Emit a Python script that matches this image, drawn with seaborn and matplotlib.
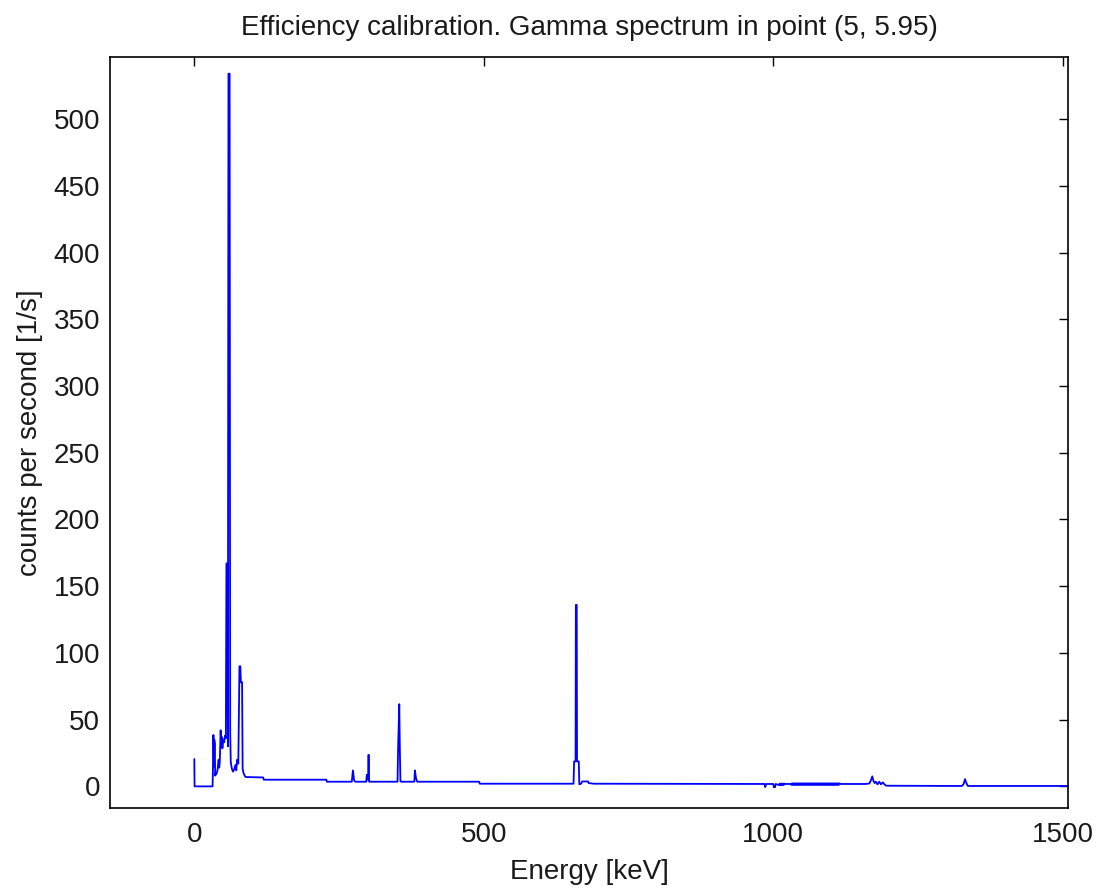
import matplotlib
matplotlib.use("Agg")
import matplotlib.pyplot as plt
import seaborn as sns
import pandas as pd

# ---- data ----
energy_kev = [
    0, 0.5, 31.5, 32, 33, 34, 34.5, 35.5, 36, 37, 38, 40, 42, 43, 44, 45.5, 46.5,
    47.5, 48.5, 50, 51.5, 53, 54.5, 55.5, 57, 58, 59, 61, 62, 63, 65, 67, 69, 71,
    72.5, 74, 76, 78, 79.5, 80.5, 82.5, 83.5, 85, 87, 89, 119, 120, 228, 229,
    272, 274, 276, 278, 297, 298, 300, 301, 302, 351, 352, 354, 355, 356, 357,
    380, 381, 383, 385, 492, 493, 655, 656, 658.5, 659, 660.5, 661, 664, 665,
    668, 670, 680, 681, 690, 985, 986, 988, 1000, 1001, 1003, 1004, 1010, 1011,
    1012, 1013, 1014, 1015, 1016, 1017, 1018, 1019, 1021, 1030, 1031, 1032,
    1033, 1034, 1035, 1036, 1037, 1038, 1039, 1040, 1041, 1042, 1043, 1044,
    1045, 1046, 1047, 1048, 1049, 1050, 1051, 1052, 1053, 1054, 1055, 1056,
    1057, 1058, 1059, 1060, 1061, 1062, 1063, 1064, 1065, 1066, 1067, 1068,
    1069, 1070, 1071, 1072, 1073, 1074, 1075, 1076, 1077, 1078, 1079, 1080,
    1081, 1082, 1083, 1084, 1085, 1086, 1087, 1088, 1089, 1090, 1091, 1092,
    1093, 1094, 1095, 1096, 1097, 1098, 1099, 1100, 1101, 1102, 1103, 1104,
    1105, 1106, 1107, 1108, 1109, 1110, 1111, 1112, 1113, 1114,
    1116, 1160, 1166, 1169, 1171, 1173, 1175, 1177, 1180, 1183, 1186, 1189,
    1192, 1195, 1326, 1329, 1331, 1333, 1336, 1509,
]
counts_per_s = [
    20.5, 0, 0, 8, 38.5, 15, 35, 32, 8, 10, 9, 12, 20, 14, 18, 42, 30,
    37, 28.5, 35, 33, 38, 36, 167, 167, 30, 534, 534, 40, 18, 13, 11, 13, 16,
    12, 20, 17, 90, 90, 78, 78, 13, 10, 8, 7, 6.7, 5.0, 5.0, 3.5,
    3.5, 12, 4.5, 3.5, 3.5, 8.7, 5, 23.7, 3.5, 3.5, 28.7, 61.6, 28, 4, 3.5,
    3.5, 12, 6, 3.5, 3.5, 2, 2, 18.7, 18.7, 136, 136, 18.7, 18.7, 1.5,
    2, 3.7, 3.7, 2.5, 2, 1.8, -0.5, 1.8, 1.8, -0.6, -0.6, 1.8, 1.0, 2.0,
    1.1, 2.1, 1.0, 2.0, 1.2, 2.1, 1.0, 2.0, 1.8, 1.8, 1.2, 2.2,
    1.1, 2.3, 1.2, 2.2, 1.1, 2.3, 1.2, 2.2, 1.1, 2.3, 1.2, 2.2,
    1.1, 2.3, 1.2, 2.2, 1.1, 2.3, 1.2, 2.2, 1.1, 2.3, 1.2, 2.2,
    1.1, 2.3, 1.2, 2.2, 1.1, 2.3, 1.2, 2.2, 1.1, 2.3, 1.2, 2.2,
    1.1, 2.3, 1.2, 2.2, 1.1, 2.3, 1.2, 2.2, 1.1, 2.3, 1.2, 2.2,
    1.1, 2.3, 1.2, 2.2, 1.1, 2.3, 1.2, 2.2, 1.1, 2.3, 1.2, 2.2,
    1.1, 2.3, 1.2, 2.2, 1.1, 2.3, 1.2, 2.2, 1.1, 2.3, 1.2, 2.2,
    1.1, 2.3, 1.2, 2.2, 1.1, 2.3, 1.2, 2.2, 1.1, 2.3,
    1.8, 1.8, 2.2, 5, 7.5, 4, 2.5, 3.5, 1.5, 3.5, 1.5, 3,
    1.5, 0.5, 0.3, 2, 5.5, 3, 0.3, 0.3,
]
x_ticks = [0, 500, 1000, 1500]
y_ticks = [0, 50, 100, 150, 200, 250, 300, 350, 400, 450, 500]

title_text = "Efficiency calibration. Gamma spectrum in point (5, 5.95)"
x_label = "Energy [keV]"
y_label = "counts per second [1/s]"

df = pd.DataFrame({"energy": energy_kev, "cps": counts_per_s})

# ---- styling ----
sns.set_theme(style="white")
plt.rcParams["font.family"] = ["Liberation Sans", "DejaVu Sans"]
plt.rcParams["axes.edgecolor"] = "black"
plt.rcParams["text.color"] = "#1a1a1a"
plt.rcParams["axes.labelcolor"] = "#1a1a1a"

fig = plt.figure(figsize=(10.96, 8.88), dpi=100)
ax = fig.add_axes([110 / 1096, 1 - 808 / 888, 958 / 1096, 751 / 888])

sns.lineplot(data=df, x="energy", y="cps", estimator=None, sort=False,
             color="#0000ff", linewidth=1.3, ax=ax)

ax.set_xlim(-145.6, 1509)
ax.set_ylim(-16.2, 546.5)
ax.set_xticks(x_ticks)
ax.set_yticks(y_ticks)
ax.set_xticklabels([str(v) for v in x_ticks])
ax.set_yticklabels([str(v) for v in y_ticks])

for s in ax.spines.values():
    s.set_visible(True)
    s.set_linewidth(1.2)
    s.set_color("black")

ax.tick_params(axis="both", which="major", direction="in", length=6.5, width=1.0,
               top=True, right=True, labelsize=20, pad=7, colors="black",
               labelcolor="#1a1a1a")
ax.tick_params(axis="x", pad=10)

ax.set_xlabel(x_label, fontsize=20, labelpad=8)
ax.set_ylabel(y_label, fontsize=20, labelpad=8)
ax.set_title(title_text, fontsize=20, pad=16)

fig.savefig("out.png", dpi=100)
